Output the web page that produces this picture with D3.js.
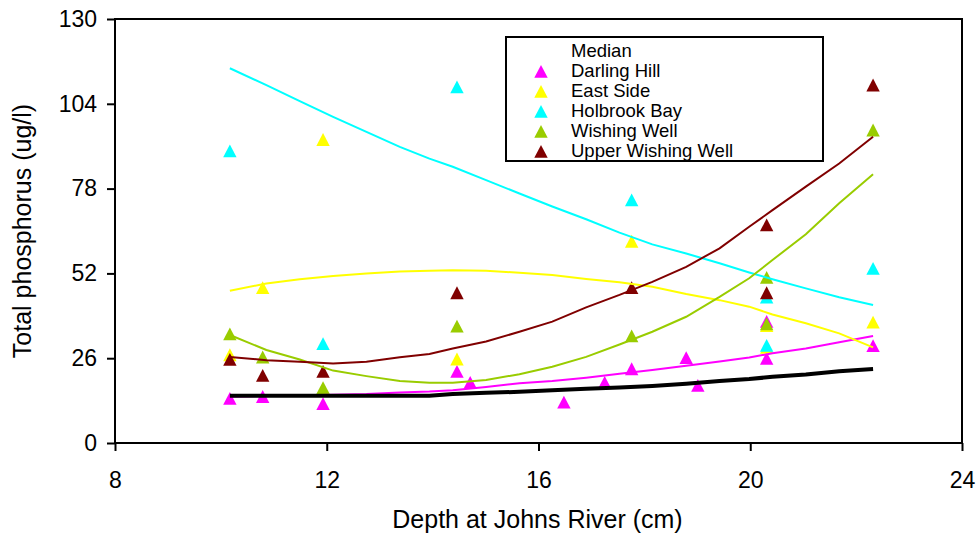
<!DOCTYPE html>
<html>
<head>
<meta charset="utf-8">
<script src="https://cdn.jsdelivr.net/npm/d3@7"></script>
<style>
  html, body { margin: 0; padding: 0; background: #fff; }
  svg { display: block; font-family: "Liberation Sans", Arial, sans-serif; }
</style>
</head>
<body>
<svg id="chart" width="978" height="535"></svg>
<script>
// Depth samples (cm) and total phosphorus (ug/l) per site
const darlingDepth = [10.17, 10.79, 11.93, 14.46, 14.71, 16.48, 17.25, 17.76, 18.79, 19.01, 20.31, 20.31, 22.32];
const darlingTP    = [13.6, 14.2, 12.0, 21.9, 18.5, 12.5, 18.5, 22.7, 26.1, 17.6, 37.2, 25.9, 29.8];

const eastDepth = [10.17, 10.79, 11.93, 14.46, 17.76, 20.31, 20.31, 22.32];
const eastTP    = [27.0, 47.6, 93.0, 25.7, 61.8, 35.9, 29.3, 37.0];

const holbrookDepth = [10.17, 11.93, 14.46, 17.76, 20.31, 20.31, 22.32];
const holbrookTP    = [89.5, 30.4, 109.1, 74.5, 44.7, 29.9, 53.5];

const wishingDepth = [10.17, 10.79, 11.93, 14.46, 17.76, 20.31, 20.31, 22.32];
const wishingTP    = [33.4, 26.3, 16.9, 35.8, 32.8, 50.7, 36.5, 95.9];

const upperDepth = [10.17, 10.79, 11.93, 14.46, 17.76, 20.31, 20.31, 22.32];
const upperTP    = [25.6, 20.7, 21.9, 46.0, 47.6, 66.8, 46.0, 109.7];

// Smoothed trend curves, read at common depths
const fitDepth = [10.17, 10.86, 11.49, 12.12, 12.75, 13.38, 13.94, 14.38, 15.01, 15.64, 16.26,
                  16.90, 17.53, 18.15, 18.79, 19.42, 19.98, 20.42, 21.05, 21.68, 22.32];
const medianFit   = [14.5, 14.5, 14.5, 14.5, 14.5, 14.5, 14.5, 15.0, 15.4, 15.7, 16.2,
                     16.6, 17.0, 17.5, 18.2, 19.0, 19.6, 20.3, 21.0, 22.0, 22.7];
const darlingFit  = [14.2, 14.4, 14.6, 14.8, 15.0, 15.5, 15.8, 16.2, 17.2, 18.3, 19.0,
                     20.0, 21.2, 22.4, 23.7, 25.0, 26.2, 27.5, 29.0, 30.9, 32.8];
const eastFit     = [46.7, 48.9, 50.2, 51.2, 52.0, 52.6, 52.8, 53.0, 52.8, 52.2, 51.5,
                     50.3, 49.3, 47.9, 45.7, 43.8, 41.8, 39.4, 36.7, 33.6, 29.3];
const holbrookFit = [114.9, 109.7, 104.8, 100.0, 95.4, 90.8, 87.2, 84.7, 80.6, 76.5, 72.5,
                     68.6, 64.5, 60.9, 58.1, 55.1, 52.3, 50.2, 47.4, 44.7, 42.3];
const wishingFit  = [33.1, 28.5, 25.6, 22.2, 20.5, 19.0, 18.5, 18.5, 19.3, 21.1, 23.4,
                     26.4, 30.2, 34.1, 38.7, 44.8, 50.5, 56.1, 64.0, 73.5, 82.4];
const upperFit    = [26.4, 25.4, 24.9, 24.4, 24.9, 26.3, 27.3, 29.0, 31.1, 34.1, 37.2,
                     41.6, 45.4, 49.4, 54.0, 59.7, 66.3, 71.4, 78.6, 85.7, 93.9];

const xTicks = [8, 12, 16, 20, 24];
const yTicks = [0, 26, 52, 78, 104, 130];

const legendNames = ["Median", "Darling Hill", "East Side", "Holbrook Bay", "Wishing Well", "Upper Wishing Well"];
const siteColors  = ["#000000", "#FF00FF", "#FFFF00", "#00FFFF", "#99CC00", "#800000"];

const series = [
  { depth: darlingDepth,  tp: darlingTP,  fit: darlingFit,  color: siteColors[1] },
  { depth: eastDepth,     tp: eastTP,     fit: eastFit,     color: siteColors[2] },
  { depth: holbrookDepth, tp: holbrookTP, fit: holbrookFit, color: siteColors[3] },
  { depth: wishingDepth,  tp: wishingTP,  fit: wishingFit,  color: siteColors[4] },
  { depth: upperDepth,    tp: upperTP,    fit: upperFit,    color: siteColors[5] }
];

const svg = d3.select("#chart");
const plot = { left: 115, right: 962, top: 19, bottom: 443 };

const x = d3.scaleLinear().domain([8, 24]).range([plot.left, plot.right]);
const y = d3.scaleLinear().domain([0, 130]).range([plot.bottom, plot.top]);

// Triangle marker centred on its bounding box
const tri = "M0,-6.6L6.7,6.2L-6.7,6.2Z";

// Axes
const yAxis = d3.axisLeft(y).tickValues(yTicks).tickSize(8).tickSizeOuter(0).tickPadding(10);
const xAxis = d3.axisBottom(x).tickValues(xTicks).tickSize(8).tickSizeOuter(0).tickPadding(21);

const gy = svg.append("g").attr("transform", `translate(${plot.left},0)`).call(yAxis);
const gx = svg.append("g").attr("transform", `translate(0,${plot.bottom})`).call(xAxis);
[gx, gy].forEach(g => {
  g.select(".domain").remove();
  g.selectAll(".tick line").attr("stroke", "#000").attr("stroke-width", 2);
  g.selectAll(".tick text").attr("fill", "#000").style("font-size", "23px")
    .style("font-family", "'Liberation Sans', Arial, sans-serif");
});

// Plot frame
svg.append("rect")
  .attr("x", plot.left).attr("y", plot.top)
  .attr("width", plot.right - plot.left).attr("height", plot.bottom - plot.top)
  .attr("fill", "none").attr("stroke", "#000").attr("stroke-width", 2);

// Sample markers
series.forEach(s => {
  svg.append("g").selectAll("path")
    .data(s.depth.map((d, i) => [d, s.tp[i]]))
    .join("path")
    .attr("d", tri)
    .attr("transform", d => `translate(${x(d[0])},${y(d[1])})`)
    .attr("fill", s.color);
});

// Smoothed trend lines
const line = d3.line().x(d => x(d[0])).y(d => y(d[1]));
series.forEach(s => {
  svg.append("path")
    .datum(fitDepth.map((d, i) => [d, s.fit[i]]))
    .attr("d", line)
    .attr("fill", "none")
    .attr("stroke", s.color)
    .attr("stroke-width", 2);
});
svg.append("path")
  .datum(fitDepth.map((d, i) => [d, medianFit[i]]))
  .attr("d", line)
  .attr("fill", "none")
  .attr("stroke", "#000")
  .attr("stroke-width", 4);

// Legend
const lg = svg.append("g");
lg.append("rect")
  .attr("x", 506).attr("y", 37).attr("width", 317).attr("height", 124)
  .attr("fill", "#fff").attr("stroke", "#000").attr("stroke-width", 2);
legendNames.forEach((name, i) => {
  const cy = 50.5 + i * 20;
  if (i > 0) {
    lg.append("path").attr("d", tri)
      .attr("transform", `translate(541,${cy + 1})`)
      .attr("fill", siteColors[i]);
  }
  lg.append("text")
    .attr("x", 571).attr("y", cy)
    .attr("dy", "0.36em")
    .style("font-size", "18.5px")
    .text(name);
});

// Axis titles
svg.append("text")
  .attr("x", (plot.left + plot.right) / 2 - 1).attr("y", 528)
  .attr("text-anchor", "middle")
  .style("font-size", "25px")
  .text("Depth at Johns River (cm)");

svg.append("text")
  .attr("transform", "translate(31,231) rotate(-90)")
  .attr("text-anchor", "middle")
  .style("font-size", "25px")
  .text("Total phosphorus  (ug/l)");
</script>
</body>
</html>
